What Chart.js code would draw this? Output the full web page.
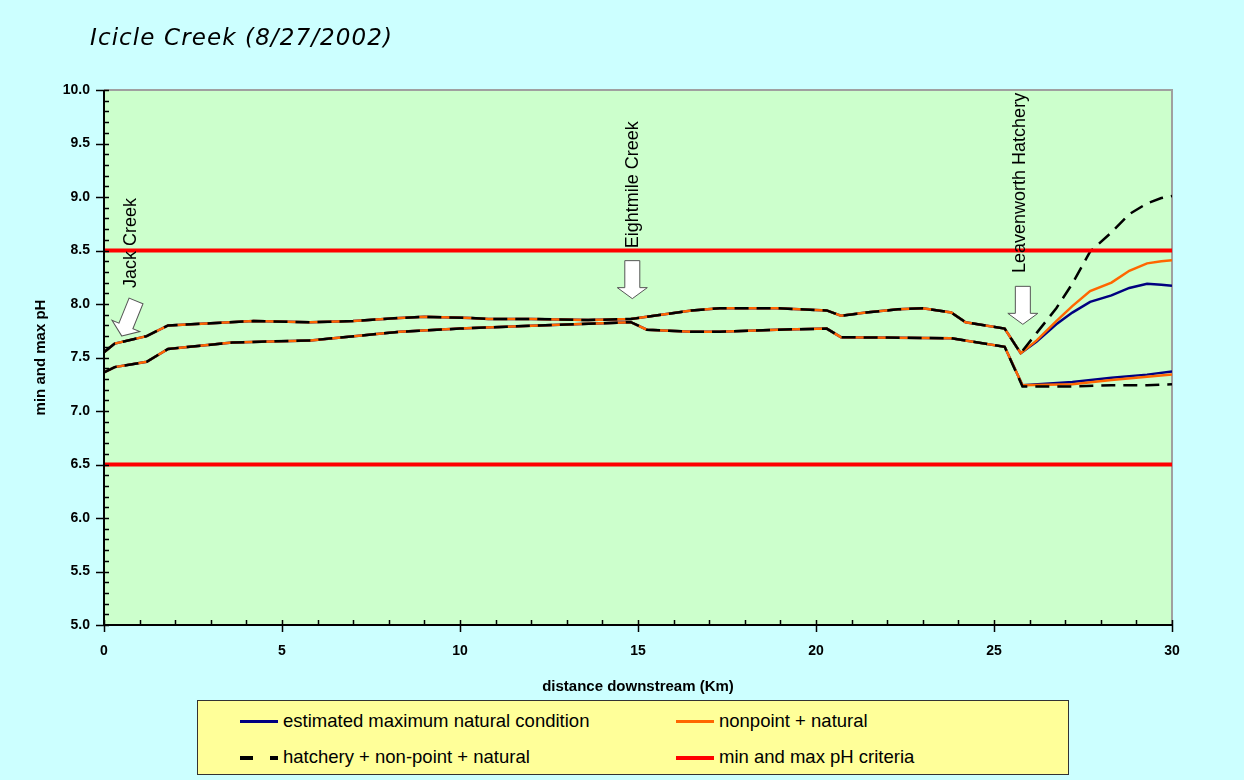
<!DOCTYPE html>
<html>
<head>
<meta charset="utf-8">
<script src="https://cdn.jsdelivr.net/npm/chart.js@4.4.1/dist/chart.umd.min.js"></script>
<style>
  body { margin: 0; background: #ccffff; }
  #wrap { position: relative; width: 1244px; height: 780px; background: #ccffff; overflow: hidden; }
  #title { position: absolute; left: 90px; top: 24px; font: oblique 23px "DejaVu Sans", Verdana, sans-serif; letter-spacing: 1.1px; color: #000; }
  #legend { position: absolute; left: 197px; top: 700px; width: 870px; height: 73px; background: #ffff99; border: 1px solid #333; font: 18.5px "Liberation Sans", Arial, sans-serif; color: #000; }
  .item { position: absolute; height: 20px; line-height: 20px; white-space: nowrap; }
  .swatch { position: absolute; top: 9px; height: 3px; width: 38px; }
  .lbl { position: absolute; left: 43px; top: 0; }
</style>
</head>
<body>
<div id="wrap">
  <div id="title">Icicle Creek (8/27/2002)</div>
  <canvas id="chart" width="1244" height="780"></canvas>
  <div id="legend">
    <div class="item" style="left:42px;top:10px"><div class="swatch" style="background:#000080"></div><span class="lbl">estimated maximum natural condition</span></div>
    <div class="item" style="left:478px;top:10px"><div class="swatch" style="background:#ff6600"></div><span class="lbl">nonpoint + natural</span></div>
    <div class="item" style="left:42px;top:46px">
      <div class="swatch" style="width:13px;background:#000;height:4px"></div>
      <div class="swatch" style="left:30px;width:8px;background:#000;height:4px"></div>
      <span class="lbl">hatchery + non-point + natural</span></div>
    <div class="item" style="left:478px;top:46px"><div class="swatch" style="background:#ff0000;height:4px"></div><span class="lbl">min and max pH criteria</span></div>
  </div>
</div>
<script>
// --- values ---

// upstream of the hatchery all three scenarios coincide
const kmMaxUp = [0, 0.3, 1.2, 1.8, 3.0, 4.2, 5.8, 7.0, 8.3, 9.0, 10.3, 10.8, 12.0, 13.6, 14.8, 15.25, 16.5, 17.3, 18.9, 20.3, 20.7, 21.4, 22.3, 23.0, 23.8, 24.2, 25.3];
const phMaxUp = [7.55, 7.63, 7.70, 7.80, 7.82, 7.84, 7.83, 7.84, 7.87, 7.88, 7.87, 7.86, 7.86, 7.85, 7.86, 7.88, 7.94, 7.96, 7.96, 7.94, 7.89, 7.92, 7.95, 7.96, 7.92, 7.83, 7.77];
const kmMinUp = [0, 0.3, 1.2, 1.8, 3.6, 5.8, 8.3, 10.0, 12.2, 14.8, 15.25, 16.5, 17.3, 18.9, 20.3, 20.7, 23.8, 25.3];
const phMinUp = [7.36, 7.41, 7.46, 7.58, 7.64, 7.66, 7.74, 7.77, 7.80, 7.83, 7.76, 7.74, 7.74, 7.76, 7.77, 7.69, 7.68, 7.60];

// hatchery and downstream, the scenarios split
const kmMaxDown = [25.75, 26.2, 26.75, 27.2, 27.7, 28.3, 28.8, 29.3, 29.7, 30];
const naturalMaxDown = [7.54, 7.65, 7.81, 7.92, 8.02, 8.08, 8.15, 8.19, 8.18, 8.17];
const nonpointMaxDown = [7.54, 7.66, 7.84, 7.98, 8.12, 8.20, 8.31, 8.38, 8.40, 8.41];
const hatcheryMaxDown = [7.54, 7.73, 7.96, 8.19, 8.49, 8.67, 8.84, 8.94, 8.99, 9.01];
const kmMinDown = [25.8, 27.2, 28.3, 29.3, 30];
const naturalMinDown = [7.24, 7.27, 7.31, 7.34, 7.37];
const nonpointMinDown = [7.24, 7.25, 7.29, 7.32, 7.34];
const hatcheryMinDown = [7.23, 7.23, 7.24, 7.24, 7.25];

const criteriaKm = [0, 30];
const criteriaMax = [8.5, 8.5];
const criteriaMin = [6.5, 6.5];

const yTicks = [5.0, 5.5, 6.0, 6.5, 7.0, 7.5, 8.0, 8.5, 9.0, 9.5, 10.0];
const xTicks = [0, 5, 10, 15, 20, 25, 30];

// tributary / hatchery markers: arrow tip and label start
const markers = [
  { text: 'Jack Creek', km: 0.5, ph: 7.70, tilt: 22, textKm: 0.76, textPh: 8.15 },
  { text: 'Eightmile Creek', km: 14.84, ph: 8.05, tilt: 0, textKm: 14.86, textPh: 8.52 },
  { text: 'Leavenworth Hatchery', km: 25.81, ph: 7.81, tilt: 0, textKm: 25.73, textPh: 8.29 }
];

function pts(kms, phs) {
  return kms.map((k, i) => ({ x: k, y: phs[i] }));
}
function joined(downValues, kmsDown, upKm, upPh) {
  return pts(upKm, upPh).concat(pts(kmsDown, downValues));
}

const FONT = '"Liberation Sans", Arial, sans-serif';

function line(label, data, color, width, order, dash) {
  return {
    label: label,
    data: data,
    borderColor: color,
    backgroundColor: color,
    borderWidth: width,
    borderDash: dash || [],
    pointRadius: 0,
    tension: 0,
    fill: false,
    order: order
  };
}

const datasets = [
  line('estimated maximum natural condition', joined(naturalMaxDown, kmMaxDown, kmMaxUp, phMaxUp), '#000080', 2.5, 4),
  line('estimated maximum natural condition', joined(naturalMinDown, kmMinDown, kmMinUp, phMinUp), '#000080', 2.5, 4),
  line('nonpoint + natural', joined(nonpointMaxDown, kmMaxDown, kmMaxUp, phMaxUp), '#ff6600', 2.5, 3),
  line('nonpoint + natural', joined(nonpointMinDown, kmMinDown, kmMinUp, phMinUp), '#ff6600', 2.5, 3),
  line('hatchery + non-point + natural', joined(hatcheryMaxDown, kmMaxDown, kmMaxUp, phMaxUp), '#000000', 2.5, 2, [14, 8]),
  line('hatchery + non-point + natural', joined(hatcheryMinDown, kmMinDown, kmMinUp, phMinUp), '#000000', 2.5, 2, [14, 8]),
  line('min and max pH criteria', pts(criteriaKm, criteriaMax), '#ff0000', 4, 1),
  line('min and max pH criteria', pts(criteriaKm, criteriaMin), '#ff0000', 4, 1)
];

// plot background, frame and tick marks (major cross the axis, minor inside)
const framePlugin = {
  id: 'frame',
  beforeDatasetsDraw(chart) {
    const { ctx, chartArea: a } = chart;
    ctx.save();
    ctx.fillStyle = '#ccffcc';
    ctx.fillRect(a.left, a.top, a.right - a.left, a.bottom - a.top);
    ctx.strokeStyle = '#a0a0a0';
    ctx.lineWidth = 2;
    ctx.beginPath();
    ctx.moveTo(a.left, a.top);
    ctx.lineTo(a.right, a.top);
    ctx.lineTo(a.right, a.bottom);
    ctx.stroke();
    ctx.restore();
  },
  afterDraw(chart) {
    const { ctx, chartArea: a, scales } = chart;
    ctx.save();
    ctx.strokeStyle = '#000';
    ctx.lineWidth = 1.5;
    ctx.beginPath();
    for (let i = 0; i <= 50; i++) {
      const y = Math.round(scales.y.getPixelForValue(5 + i / 10)) + 0.5;
      const major = i % 5 === 0;
      ctx.moveTo(a.left - (major ? 8 : 0), y);
      ctx.lineTo(a.left + 5, y);
    }
    for (let k = 0; k <= 30; k++) {
      const x = Math.round(scales.x.getPixelForValue(k)) + 0.5;
      const major = k % 5 === 0;
      ctx.moveTo(x, a.bottom - 5);
      ctx.lineTo(x, a.bottom + (major ? 7 : 0));
    }
    ctx.stroke();
    ctx.lineWidth = 2;
    ctx.beginPath();
    ctx.moveTo(a.left, a.top);
    ctx.lineTo(a.left, a.bottom);
    ctx.lineTo(a.right, a.bottom);
    ctx.stroke();
    ctx.restore();
  }
};

const markerPlugin = {
  id: 'markers',
  afterDatasetsDraw(chart) {
    const { ctx, scales } = chart;
    markers.forEach(m => {
      ctx.save();
      ctx.translate(scales.x.getPixelForValue(m.km), scales.y.getPixelForValue(m.ph));
      ctx.rotate(m.tilt * Math.PI / 180);
      ctx.beginPath();
      ctx.moveTo(0, 0);
      ctx.lineTo(15, -11);
      ctx.lineTo(7.5, -11);
      ctx.lineTo(7.5, -38);
      ctx.lineTo(-7.5, -38);
      ctx.lineTo(-7.5, -11);
      ctx.lineTo(-15, -11);
      ctx.closePath();
      ctx.fillStyle = '#ffffff';
      ctx.fill();
      ctx.strokeStyle = '#555555';
      ctx.lineWidth = 1;
      ctx.stroke();
      ctx.restore();

      ctx.save();
      ctx.translate(scales.x.getPixelForValue(m.textKm), scales.y.getPixelForValue(m.textPh));
      ctx.rotate(-Math.PI / 2);
      ctx.font = '18px ' + FONT;
      ctx.fillStyle = '#000';
      ctx.textAlign = 'left';
      ctx.textBaseline = 'middle';
      ctx.fillText(m.text, 0, 0);
      ctx.restore();
    });
  }
};

new Chart(document.getElementById('chart'), {
  type: 'line',
  data: { datasets: datasets },
  options: {
    responsive: false,
    animation: false,
    layout: { padding: { top: 90, right: 72, left: 0, bottom: 84 } },
    plugins: {
      legend: { display: false },
      tooltip: { enabled: false },
      title: { display: false }
    },
    scales: {
      x: {
        type: 'linear',
        min: 0,
        max: 30,
        afterBuildTicks: s => { s.ticks = xTicks.map(v => ({ value: v })); },
        afterFit: s => { s.height = 71; },
        grid: { display: false, drawTicks: false },
        border: { display: false },
        ticks: { color: '#000', padding: 18, font: { family: FONT, size: 14, weight: 'bold' } },
        title: { display: true, text: 'distance downstream (Km)', color: '#000', padding: { top: 10, bottom: 0 }, font: { family: FONT, size: 15, weight: 'bold' } }
      },
      y: {
        type: 'linear',
        min: 5,
        max: 10,
        afterBuildTicks: s => { s.ticks = yTicks.map(v => ({ value: v })); },
        afterFit: s => { s.width = 104; },
        grid: { display: false, drawTicks: false },
        border: { display: false },
        ticks: { color: '#000', padding: 14, font: { family: FONT, size: 14, weight: 'bold' }, callback: v => v.toFixed(1) },
        title: { display: true, text: 'min and max pH', color: '#000', padding: { bottom: 0, top: 32 }, font: { family: FONT, size: 15, weight: 'bold' } }
      }
    }
  },
  plugins: [framePlugin, markerPlugin]
});
</script>
</body>
</html>
